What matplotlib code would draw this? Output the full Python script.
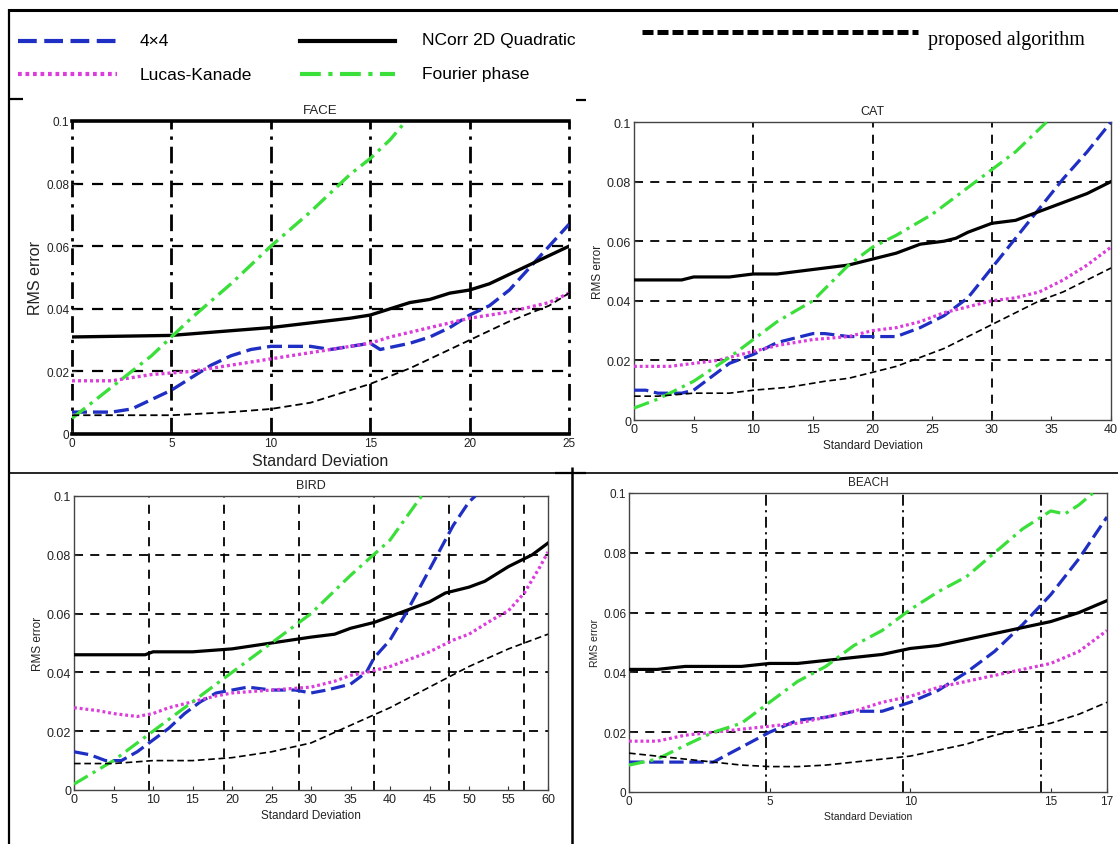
import matplotlib
matplotlib.use('Agg')
import matplotlib.pyplot as plt
from matplotlib.lines import Line2D
from matplotlib.ticker import FixedLocator, FixedFormatter

W, H = 1118, 845
plt.rcParams['font.family'] = ['Liberation Sans', 'DejaVu Sans']

# ---------------- data (Standard Deviation vs RMS error) ----------------
y_ticks = [0, 0.02, 0.04, 0.06, 0.08, 0.1]
y_tick_labels = ['0', '0.02', '0.04', '0.06', '0.08', '0.1']
series_names = ['4×4', 'Lucas-Kanade', 'NCorr 2D Quadratic', 'Fourier phase', 'proposed algorithm']

# FACE
face_4x4_x = [0, 2, 3, 4, 5, 6, 7, 8, 9, 10, 11, 12, 13, 14, 15, 15.5, 17, 18, 19, 20, 21, 22, 23, 24, 25]
face_4x4_y = [0.007, 0.007, 0.008, 0.011, 0.014, 0.018, 0.022, 0.025, 0.027, 0.028, 0.028, 0.028, 0.027,
              0.028, 0.029, 0.027, 0.029, 0.031, 0.034, 0.038, 0.041, 0.046, 0.053, 0.060, 0.067]
face_lk_x = [0, 2, 4, 6, 8, 10, 12, 14, 15, 16, 18, 20, 22, 24, 25]
face_lk_y = [0.017, 0.017, 0.019, 0.020, 0.022, 0.024, 0.026, 0.028, 0.029, 0.031, 0.034, 0.037, 0.039, 0.042, 0.045]
face_ncorr_x = [0, 5, 6, 8, 10, 12, 14, 15, 16, 17, 18, 19, 20, 21, 22, 23, 24, 25]
face_ncorr_y = [0.031, 0.0315, 0.032, 0.033, 0.034, 0.0355, 0.037, 0.038, 0.040, 0.042, 0.043, 0.045,
                0.046, 0.048, 0.051, 0.054, 0.057, 0.060]
face_fourier_x = [0, 2, 4, 5, 6, 8, 10, 12, 14, 15, 16, 16.8]
face_fourier_y = [0.005, 0.015, 0.025, 0.031, 0.037, 0.048, 0.060, 0.071, 0.083, 0.088, 0.094, 0.1]
face_prop_x = [0, 2, 5, 8, 10, 12, 14, 15, 17, 19, 20, 22, 24, 25]
face_prop_y = [0.006, 0.006, 0.006, 0.007, 0.008, 0.010, 0.014, 0.016, 0.021, 0.027, 0.030, 0.036, 0.041, 0.045]

# CAT
cat_4x4_x = [0, 1, 2, 4, 5, 6, 8, 10, 12, 14, 15, 16, 18, 20, 22, 24, 26, 27, 28, 30, 32, 34, 36, 38, 40]
cat_4x4_y = [0.010, 0.010, 0.009, 0.009, 0.010, 0.013, 0.019, 0.022, 0.026, 0.028, 0.029, 0.029, 0.028,
             0.028, 0.028, 0.031, 0.035, 0.038, 0.041, 0.051, 0.061, 0.071, 0.081, 0.090, 0.100]
cat_lk_x = [0, 3, 5, 7, 10, 12, 15, 18, 20, 22, 24, 26, 28, 30, 32, 34, 36, 38, 40]
cat_lk_y = [0.018, 0.018, 0.019, 0.020, 0.023, 0.025, 0.027, 0.028, 0.030, 0.031, 0.033, 0.036, 0.038,
            0.040, 0.041, 0.043, 0.047, 0.052, 0.058]
cat_ncorr_x = [0, 4, 5, 8, 10, 12, 14, 16, 18, 20, 22, 24, 26, 27, 28, 30, 32, 34, 36, 38, 40]
cat_ncorr_y = [0.047, 0.047, 0.048, 0.048, 0.049, 0.049, 0.050, 0.051, 0.052, 0.054, 0.056, 0.059, 0.060,
               0.061, 0.063, 0.066, 0.067, 0.070, 0.073, 0.076, 0.080]
cat_fourier_x = [0, 2, 5, 8, 10, 12, 15, 18, 20, 22, 25, 28, 30, 32, 34.6]
cat_fourier_y = [0.004, 0.007, 0.013, 0.021, 0.027, 0.033, 0.040, 0.052, 0.058, 0.062, 0.069, 0.078, 0.084, 0.090, 0.1]
cat_prop_x = [0, 2, 5, 8, 10, 13, 16, 18, 20, 22, 24, 26, 28, 30, 32, 34, 36, 38, 40]
cat_prop_y = [0.008, 0.008, 0.009, 0.009, 0.010, 0.011, 0.013, 0.014, 0.016, 0.018, 0.021, 0.024, 0.028,
              0.032, 0.036, 0.040, 0.043, 0.047, 0.051]

# BIRD
bird_4x4_x = [0, 2, 4, 6, 8, 10, 12, 14, 16, 18, 20, 22, 25, 28, 30, 32, 35, 37, 38, 40, 42, 44, 46, 48, 50, 50.8]
bird_4x4_y = [0.013, 0.012, 0.010, 0.010, 0.013, 0.017, 0.021, 0.026, 0.030, 0.033, 0.034, 0.035, 0.034,
              0.034, 0.033, 0.034, 0.036, 0.040, 0.045, 0.051, 0.060, 0.070, 0.080, 0.090, 0.098, 0.1]
bird_lk_x = [0, 3, 5, 8, 10, 12, 15, 18, 20, 25, 30, 33, 35, 37, 40, 45, 48, 50, 53, 55, 57, 59, 60]
bird_lk_y = [0.028, 0.027, 0.026, 0.025, 0.026, 0.028, 0.030, 0.032, 0.033, 0.034, 0.035, 0.037, 0.039,
             0.040, 0.042, 0.047, 0.051, 0.053, 0.058, 0.061, 0.067, 0.076, 0.081]
bird_ncorr_x = [0, 9, 10, 15, 20, 25, 30, 33, 35, 38, 40, 42, 45, 47, 50, 52, 55, 58, 60]
bird_ncorr_y = [0.046, 0.046, 0.047, 0.047, 0.048, 0.050, 0.052, 0.053, 0.055, 0.057, 0.059, 0.061, 0.064,
                0.067, 0.069, 0.071, 0.076, 0.080, 0.084]
bird_fourier_x = [0, 5, 10, 15, 20, 25, 30, 35, 40, 44]
bird_fourier_y = [0.002, 0.010, 0.020, 0.030, 0.040, 0.050, 0.060, 0.073, 0.085, 0.1]
bird_prop_x = [0, 5, 10, 15, 20, 25, 30, 35, 40, 45, 50, 55, 60]
bird_prop_y = [0.009, 0.009, 0.010, 0.010, 0.011, 0.013, 0.016, 0.022, 0.028, 0.035, 0.042, 0.048, 0.053]

# BEACH
beach_4x4_x = [0, 1, 2, 3, 4, 5, 6, 7, 8, 9, 10, 11, 12, 13, 14, 15, 16, 17]
beach_4x4_y = [0.010, 0.010, 0.010, 0.010, 0.015, 0.020, 0.024, 0.025, 0.027, 0.027, 0.030, 0.034, 0.040,
               0.047, 0.056, 0.066, 0.078, 0.092]
beach_lk_x = [0, 1, 2, 3, 4, 5, 6, 7, 8, 9, 10, 11, 12, 13, 14, 15, 16, 17]
beach_lk_y = [0.017, 0.017, 0.019, 0.020, 0.021, 0.022, 0.023, 0.025, 0.027, 0.030, 0.032, 0.035, 0.037,
              0.039, 0.041, 0.043, 0.047, 0.054]
beach_ncorr_x = [0, 1, 2, 4, 5, 6, 7, 8, 9, 10, 11, 12, 13, 14, 15, 16, 17]
beach_ncorr_y = [0.041, 0.041, 0.042, 0.042, 0.043, 0.043, 0.044, 0.045, 0.046, 0.048, 0.049, 0.051, 0.053,
                 0.055, 0.057, 0.060, 0.064]
beach_fourier_x = [0, 1, 2, 3, 4, 5, 6, 7, 8, 9, 10, 11, 12, 13, 14, 15, 15.5, 16, 16.5]
beach_fourier_y = [0.009, 0.011, 0.0156, 0.020, 0.023, 0.030, 0.037, 0.042, 0.049, 0.054, 0.061, 0.067,
                   0.072, 0.080, 0.088, 0.094, 0.093, 0.096, 0.1]
beach_prop_x = [0, 1, 2, 3, 4, 5, 6, 7, 8, 9, 10, 11, 12, 13, 14, 15, 16, 17]
beach_prop_y = [0.013, 0.012, 0.011, 0.010, 0.009, 0.0085, 0.0085, 0.009, 0.010, 0.011, 0.012, 0.014,
                0.016, 0.019, 0.021, 0.023, 0.026, 0.030]

# ---------------- styles ----------------
BLUE = '#1f2fc4'
MAGENTA = '#dc3cdc'
GREEN = '#3adf3a'
style_4x4 = dict(color=BLUE, linestyle=(0, (4.5, 1.8)))
style_lk = dict(color=MAGENTA, linestyle=(0, (0.9, 0.9)))
style_ncorr = dict(color='black', linestyle='-')
style_fourier = dict(color=GREEN, linestyle=(0, (5, 1.8, 1, 1.8)))
style_prop = dict(color='black', linestyle=(0, (4, 2.2)))

fig = plt.figure(figsize=(W / 100, H / 100), dpi=100)


def rect(x0, y0, x1, y1):
    return [x0 / W, 1 - y1 / H, (x1 - x0) / W, (y1 - y0) / H]


def panel(r, title, xlim, xticks, vgrid, vstyle, data, lw, prop_lw, tick_fs, lab_fs, title_fs, face=False):
    ax = fig.add_axes(r)
    ax.set_xlim(*xlim)
    ax.set_ylim(0, 0.1)
    for g in [0.02, 0.04, 0.06, 0.08]:
        ax.axhline(g, color='black', lw=1.3 if not face else 1.6, linestyle=(0, (5, 4)), zorder=1)
    for g in vgrid:
        ax.axvline(g, color='black', lw=1.3 if not face else 2.0, linestyle=vstyle, zorder=1, clip_on=False)
    (x1, y1), (x2, y2), (x3, y3), (x4, y4), (x5, y5) = data
    ax.plot(x1, y1, lw=lw, zorder=3, **style_4x4)
    ax.plot(x2, y2, lw=lw, zorder=3, **style_lk)
    ax.plot(x3, y3, lw=lw, zorder=3, **style_ncorr)
    ax.plot(x4, y4, lw=lw, zorder=3, **style_fourier)
    ax.plot(x5, y5, lw=prop_lw, zorder=4, **style_prop)
    ax.xaxis.set_major_locator(FixedLocator(xticks))
    ax.set_xticklabels([str(t) for t in xticks])
    ax.yaxis.set_major_locator(FixedLocator(y_ticks))
    ax.yaxis.set_major_formatter(FixedFormatter(y_tick_labels))
    ax.tick_params(direction='in', length=3, width=0.8, labelsize=tick_fs, pad=2, colors='#333333',
                   labelcolor='#222222')
    ax.set_xlabel('Standard Deviation', fontsize=lab_fs, labelpad=3, color='#222222')
    ax.set_ylabel('RMS error', fontsize=lab_fs, labelpad=2, color='#222222')
    ax.set_title(title, fontsize=title_fs, pad=6, color='#222222')
    if face:
        ax.spines['left'].set_visible(False)
        ax.spines['right'].set_visible(False)
        ax.spines['top'].set_linewidth(2.6)
        ax.spines['bottom'].set_linewidth(2.6)
    else:
        for s in ax.spines.values():
            s.set_linewidth(1.0)
            s.set_color('#444444')
    return ax


dashdot = (0, (6, 2.5, 1.2, 2.5))
dashed = (0, (5, 4))

panel(rect(72, 122, 569, 435), 'FACE', (0, 25), [0, 5, 10, 15, 20, 25], [0, 5, 10, 15, 20, 25], dashdot,
      [(face_4x4_x, face_4x4_y), (face_lk_x, face_lk_y), (face_ncorr_x, face_ncorr_y),
       (face_fourier_x, face_fourier_y), (face_prop_x, face_prop_y)],
      2.4, 1.3, 8.5, 11.5, 9.5, face=True)

panel(rect(634, 123, 1111, 421), 'CAT', (0, 40), [0, 5, 10, 15, 20, 25, 30, 35, 40], [10, 20, 30], dashed,
      [(cat_4x4_x, cat_4x4_y), (cat_lk_x, cat_lk_y), (cat_ncorr_x, cat_ncorr_y),
       (cat_fourier_x, cat_fourier_y), (cat_prop_x, cat_prop_y)],
      2.3, 1.2, 9, 8.5, 9)

panel(rect(74, 497, 548, 791), 'BIRD', (0, 60), list(range(0, 61, 5)), [9.5, 19, 28.5, 38, 47.5, 57], dashed,
      [(bird_4x4_x, bird_4x4_y), (bird_lk_x, bird_lk_y), (bird_ncorr_x, bird_ncorr_y),
       (bird_fourier_x, bird_fourier_y), (bird_prop_x, bird_prop_y)],
      2.3, 1.2, 9, 8.5, 9)

panel(rect(629, 494, 1107, 793), 'BEACH', (0, 17), [0, 5, 10, 15, 17], [4.88, 9.75, 14.65], dashdot,
      [(beach_4x4_x, beach_4x4_y), (beach_lk_x, beach_lk_y), (beach_ncorr_x, beach_ncorr_y),
       (beach_fourier_x, beach_fourier_y), (beach_prop_x, beach_prop_y)],
      2.3, 1.2, 8.5, 7.5, 8.5)

# ---------------- frame lines of the composite ----------------
def fline(xs, ys, lw):
    fig.add_artist(Line2D([x / W for x in xs], [1 - y / H for y in ys], color='black', lw=lw,
                          transform=fig.transFigure, solid_capstyle='butt'))

fline([8, 1118], [10.5, 10.5], 2.2)
fline([9, 9], [10, 845], 1.6)
fline([9, 23], [100, 100], 1.6)
fline([576, 586], [101, 101], 1.6)
fline([9, 1118], [473.5, 473.5], 1.2)
fline([555, 586], [474, 474], 1.6)
fline([572, 572], [468, 845], 1.8)

# ---------------- legend (drawn in figure coordinates) ----------------
def leg_line(x0, x1, y, lw, **st):
    fig.add_artist(Line2D([x0 / W, x1 / W], [1 - y / H, 1 - y / H], lw=lw, transform=fig.transFigure, **st))


leg_fs = 12.5
leg_line(18, 117, 42, 3.0, **style_4x4)
fig.text(140 / W, 1 - 42 / H, series_names[0], fontsize=leg_fs, va='center', ha='left')
leg_line(18, 117, 75, 3.0, **style_lk)
fig.text(140 / W, 1 - 75 / H, series_names[1], fontsize=leg_fs, va='center', ha='left')
leg_line(300, 395, 42, 3.0, **style_ncorr)
fig.text(422 / W, 1 - 40 / H, series_names[2], fontsize=leg_fs, va='center', ha='left')
leg_line(300, 395, 75, 3.0, **style_fourier)
fig.text(422 / W, 1 - 74 / H, series_names[3], fontsize=leg_fs, va='center', ha='left')
leg_line(642, 918, 33, 3.6, color='black', linestyle=(0, (2.2, 0.8)))
fig.text(928 / W, 1 - 41 / H, series_names[4], fontsize=14.5, va='center', ha='left',
         family=['Liberation Serif', 'DejaVu Serif'])

fig.savefig('out.png', dpi=100)
